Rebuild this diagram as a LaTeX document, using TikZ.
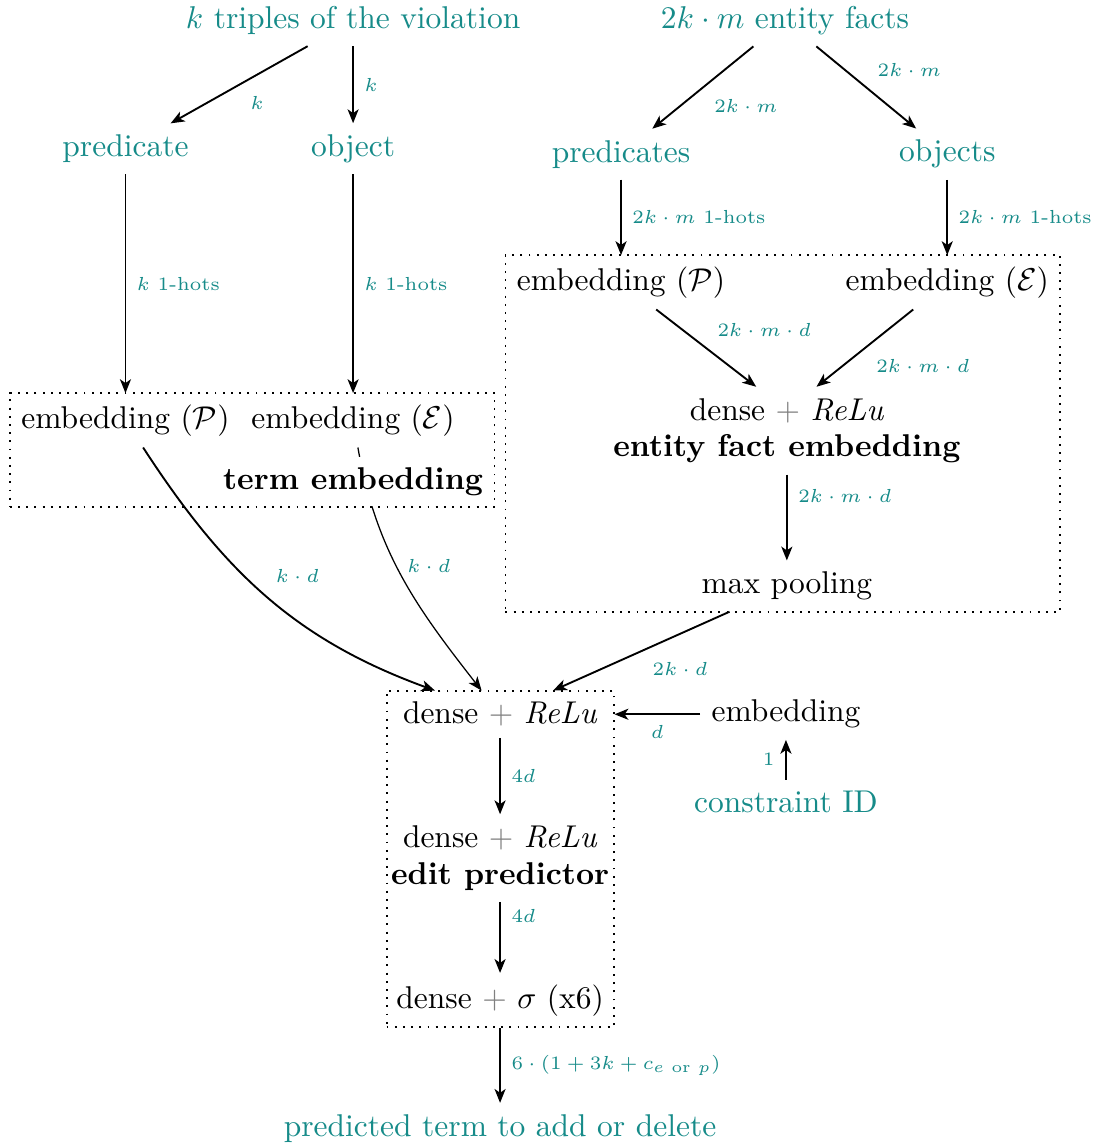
\documentclass[tikz,border=0pt]{standalone}
\usepackage{amsmath}
\usepackage{amssymb}
\usetikzlibrary{arrows.meta, positioning, fit, backgrounds}

\definecolor{tealtxt}{RGB}{22,139,137}
\newcommand{\plusg}{\mathbin{\color{gray}+}}

\tikzset{
	io/.style={text=tealtxt},
	grp/.style={draw, dotted, semithick, inner sep=0pt},
	lbl/.style={text=tealtxt, font=\fontsize{6}{7.2}\selectfont},
}

\begin{document}
\begin{tikzpicture}[on grid,>={Stealth[length=4.4pt,width=3.5pt,inset=1.2pt]},semithick]
		
		\useasboundingbox (0,0) rectangle (12.24,-12.81);
		
		\node (trip) 
			[io] at (3.94,-0.23) {$k$ triples of the violation};
			\node (pred) 
				[io, below left=1.43cm and 2.54cm of trip] {predicate};
			\node (obj) 
				[io, below=1.43cm of trip] {object};
			\node (embP1) 
				[below=3.03cm of pred] {embedding ($\mathcal{P}$)};
			\node (embE1) 
				[below=3.03cm of obj] {embedding ($\mathcal{E}$)};
			\node (termemb) 
				[below=0.68cm of embE1, fill=white, font=\bfseries] {term embedding};
				
		\node (facts) 
			[io, right=4.82cm of trip] {$2k\cdot m$ entity facts};
			\node (preds) 
				[io, below left=1.49cm and 1.83cm of facts] {predicates};
			\node (objs) 
				[io, below right=1.49cm and 1.81cm of facts] {objects};
			\node (embP2) 
				[below=1.43cm of preds] {embedding ($\mathcal{P}$)};
			\node (embE2) 
				[below=1.43cm of objs] {embedding ($\mathcal{E}$)};
			\node (dense1) 
				[below right=1.43cm and 1.85cm of embP2] {dense $\plusg$ \textit{ReLu}};
			\node (efe) 
				[below=0.43cm of dense1, font=\bfseries] {entity fact embedding};
			\node (maxpool) 
				[below=1.53cm of efe] {max pooling};
			
		\node (dense2) 
			[below left=1.43cm and 3.2cm of maxpool] {dense $\plusg$ \textit{ReLu}};
			\node (emb3) 
				[right=3.19cm of dense2] {embedding};
			\node (cid) 
				[io, below=0.98cm of emb3] {constraint ID};
			\node (dense3) 
				[below=1.38cm of dense2] {dense $\plusg$ \textit{ReLu}};
			\node (edit) 
				[below=0.43cm of dense3, font=\bfseries] {edit predictor};
			\node (dense4) 
				[below=1.38cm of edit] {dense $\plusg$ $\sigma$ (x6)};
			\node (out) 
				[io, below=1.43cm of dense4] {predicted term to add or delete};
		
		\node (box1) [grp, fit=(embP1) (embE1) (termemb)] {};
		\node (box2) [grp, fit=(embP2) (embE2) (maxpool)] {};
		\node (box3) [grp, inner xsep=-2.2pt, fit=(dense2) (edit) (dense4)] {};
		
		\path [->]
		(trip) edge node [lbl, below right] {$k$} (pred)
		(trip) edge node [lbl, right] {$k$} (obj)
		(pred) edge node [lbl, right] {$k$ 1-hots} (embP1)
		(obj) edge node [lbl, right] {$k$ 1-hots} (embE1)
		(embP1) edge [out=-57, in=160] node [lbl, above right, pos=0.49] {$k\cdot d$} (dense2)
		
		(facts) edge node [lbl, below right] {$2k\cdot m$} (preds)
		(facts) edge node [lbl, above right] {$2k\cdot m$} (objs)
		(preds) edge node [lbl, right] {$2k\cdot m$ 1-hots} (embP2)
		(objs) edge node [lbl, right] {$2k\cdot m$ 1-hots} (embE2)
		(embP2) edge node [lbl, above right] {$2k\cdot m\cdot d$} (dense1)
		(embE2) edge node [lbl, below right] {$2k\cdot m\cdot d$} (dense1)
		(efe) edge node [lbl, right, pos=0.25] {$2k\cdot m\cdot d$} (maxpool)
		(maxpool) edge node [lbl, below right] {$2k\cdot d$} (dense2)
		
		(emb3) edge node [lbl, below] {$d$} (emb3 -| box3.east)
		(cid) edge node [lbl, left] {$1$} (emb3)
		(dense2) edge node [lbl, right] {$4d$} (dense3)
		(edit) edge node [lbl, right, pos=0.2] {$4d$} (dense4)
		(box3) edge node [lbl, right] {$6\cdot(1+3k+c_{e\text{ or }p})$} (out)
		;
		
		% goes behind the term embedding label
		\begin{pgfonlayer}{background}
		\path [->]
		(embE1) edge [out=-80, in=128] node [lbl, right, pos=0.45] {$k\cdot d$} (dense2);
		\end{pgfonlayer}
	\end{tikzpicture}
\end{document}
